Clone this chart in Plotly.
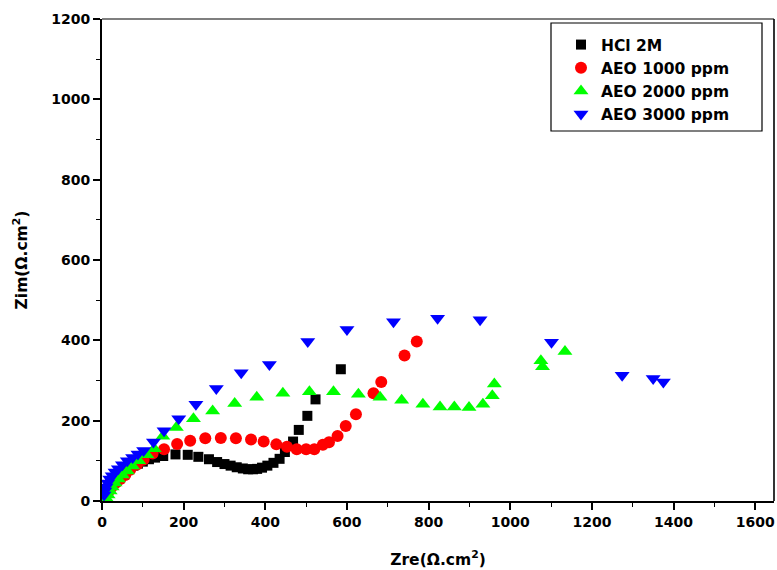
import plotly.graph_objects as go

# HCl 2M (black squares)
hcl_x = [5, 8, 12, 16, 20, 25, 30, 36, 43, 50, 58, 67, 77, 88, 100, 115, 130, 150, 180, 210,
         236, 262, 282, 300, 315, 330, 345, 358, 370, 380, 392, 405, 420, 435, 448, 468, 482, 503, 523, 585]
hcl_y = [10, 20, 28, 35, 42, 48, 55, 60, 66, 72, 78, 83, 88, 93, 98, 104, 108, 112, 116, 115,
         110, 104, 97, 92, 88, 84, 81, 79, 79, 80, 83, 88, 95, 105, 122, 148, 177, 212, 253, 328]

# AEO 1000 ppm (red circles)
a1_x = [5, 10, 15, 20, 27, 35, 45, 57, 69, 86, 102, 124, 152, 184, 216, 253, 291, 328, 365, 396,
        427, 453, 477, 500, 520, 541, 556, 577, 597, 622, 665, 684, 741, 771]
a1_y = [8, 15, 22, 30, 38, 46, 55, 65, 78, 91, 103, 118, 129, 142, 150, 156, 157, 156, 153, 148,
        141, 135, 129, 129, 129, 140, 146, 162, 187, 216, 268, 296, 362, 397]

# AEO 2000 ppm (green up-triangles)
a2_x = [12, 15, 20, 25, 32, 40, 50, 62, 75, 90, 110, 128, 149, 182, 224, 271, 325, 379, 443, 508,
        567, 628, 681, 734, 786, 828, 863, 899, 933, 956, 961, 1075, 1079, 1134]
a2_y = [5, 15, 25, 35, 45, 55, 65, 75, 87, 100, 115, 130, 161, 183, 205, 224, 243, 258, 268, 272,
        272, 266, 258, 251, 241, 234, 234, 233, 241, 262, 291, 349, 334, 372]

# AEO 3000 ppm (blue down-triangles)
a3_x = [5, 7, 10, 14, 19, 25, 32, 40, 50, 62, 75, 88, 102, 126, 152, 188, 230, 280, 341, 410,
        504, 600, 714, 822, 926, 1101, 1274, 1350, 1375]
a3_y = [15, 25, 35, 45, 55, 63, 72, 80, 90, 100, 108, 117, 126, 147, 175, 205, 241, 280, 319, 340,
        397, 427, 446, 455, 451, 395, 313, 305, 296]

series = [
    ("HCl 2M", hcl_x, hcl_y, "square", "#000000", 10),
    ("AEO 1000 ppm", a1_x, a1_y, "circle", "#ff0000", 12),
    ("AEO 2000 ppm", a2_x, a2_y, "triangle-up", "#00ff00", 13),
    ("AEO 3000 ppm", a3_x, a3_y, "triangle-down", "#0000ff", 13),
]

FONT = "DejaVu Sans"

fig = go.Figure()
for name, xs, ys, sym, col, sz in series:
    fig.add_trace(go.Scatter(
        x=xs, y=ys, mode="markers", name=name,
        marker=dict(symbol=sym, color=col, size=sz, line=dict(width=0)),
    ))

L, R, T, B = 102, 3, 19, 69
W, H = 777, 570
pw = W - L - R
ph = H - T - B

def px2paper_x(px):
    return (px - L) / pw

def px2paper_y(py):
    return (H - B - py) / ph

axis_common = dict(
    showgrid=False, zeroline=False,
    showline=True, linecolor="black", linewidth=2,
    ticks="outside", ticklen=7, tickwidth=1.5, tickcolor="black",
    tickfont=dict(family=FONT, size=14, color="black", weight="bold"),
    minor=dict(ticks="outside", ticklen=4, tickwidth=1.2, tickcolor="black", dtick=100, showgrid=False),
)

fig.update_layout(
    width=W, height=H,
    margin=dict(l=L, r=R, t=T, b=B),
    paper_bgcolor="white", plot_bgcolor="white",
    showlegend=True,
    legend=dict(
        x=px2paper_x(561), y=px2paper_y(28), xanchor="left", yanchor="top",
        bgcolor="rgba(0,0,0,0)", borderwidth=0,
        font=dict(family=FONT, size=15.5, color="black", weight="bold"),
        tracegroupgap=0,
    ),
    xaxis=dict(
        range=[0, 1646], dtick=200, tick0=0,
        title=dict(text="Zre(Ω.cm<sup>2</sup>)", standoff=25,
                   font=dict(family=FONT, size=15.5, color="black", weight="bold")),
        **axis_common,
    ),
    yaxis=dict(
        range=[0, 1200], dtick=200, tick0=0,
        title=dict(text="Zim(Ω.cm<sup>2</sup>)", standoff=20,
                   font=dict(family=FONT, size=15.5, color="black", weight="bold")),
        **axis_common,
    ),
    shapes=[
        dict(type="line", xref="paper", yref="paper", x0=0, x1=1, y0=1, y1=1,
             line=dict(color="black", width=1.2)),
        dict(type="line", xref="paper", yref="paper", x0=1, x1=1, y0=0, y1=1,
             line=dict(color="black", width=1.6)),
        dict(type="rect", xref="paper", yref="paper",
             x0=px2paper_x(551), x1=px2paper_x(762), y0=px2paper_y(131), y1=px2paper_y(23),
             line=dict(color="black", width=1.2), fillcolor="rgba(0,0,0,0)"),
    ],
)

fig.write_html("out.html")
